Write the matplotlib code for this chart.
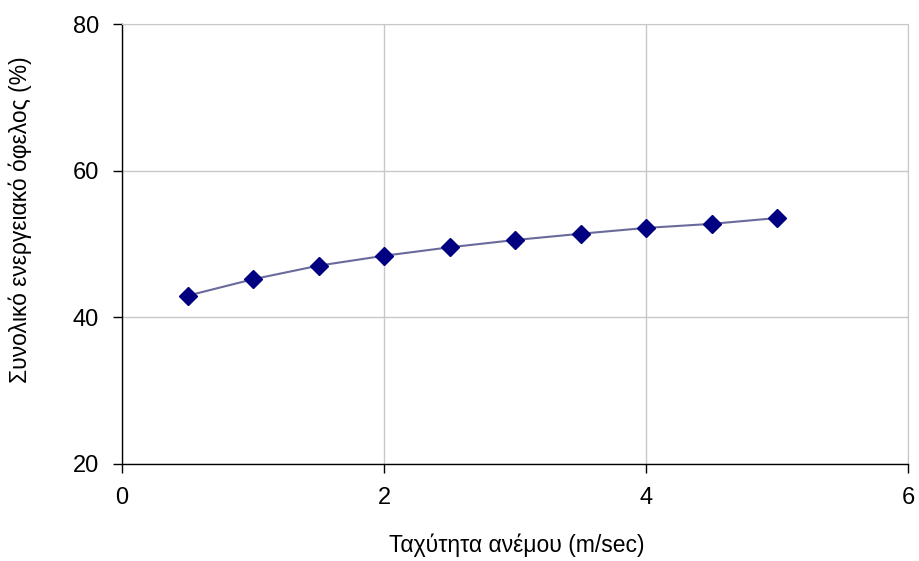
import matplotlib
matplotlib.use('Agg')
import matplotlib.pyplot as plt

plt.rcParams['font.family'] = ['Liberation Sans', 'DejaVu Sans']

wind_speed = [0.5, 1.0, 1.5, 2.0, 2.5, 3.0, 3.5, 4.0, 4.5, 5.0]
energy_benefit = [42.95, 45.2, 47.05, 48.4, 49.55, 50.55, 51.4, 52.2, 52.75, 53.55]

fig = plt.figure(figsize=(9.19, 5.61), dpi=100)
ax = fig.add_axes([0.1328, 0.173, 0.8553, 0.784])

ax.plot(wind_speed, energy_benefit, color='#6a6a9c', linewidth=1.5,
        marker='D', markersize=9, markerfacecolor='#000080',
        markeredgecolor='#000080', zorder=3)

ax.set_xlim(0, 6)
ax.set_ylim(20, 80)
ax.set_xticks([0, 2, 4, 6])
ax.set_yticks([20, 40, 60, 80])
ax.grid(True, color='#c8c8c8', linewidth=1)
ax.set_axisbelow(True)

for side in ('left', 'bottom'):
    ax.spines[side].set_color('black')
    ax.spines[side].set_linewidth(1)
for side in ('top', 'right'):
    ax.spines[side].set_color('#c8c8c8')

ax.tick_params(direction='out', length=6.5, width=1, labelsize=17, pad=10, color='black')

ax.set_xlabel('Ταχύτητα ανέμου (m/sec)', fontsize=16.5)
ax.xaxis.set_label_coords(0.5025, -0.158)
ax.set_ylabel('Συνολικό ενεργειακό όφελος (%)', fontsize=16.5)
ax.yaxis.set_label_coords(-0.114, 0.555)

fig.savefig('out.png', dpi=100)
